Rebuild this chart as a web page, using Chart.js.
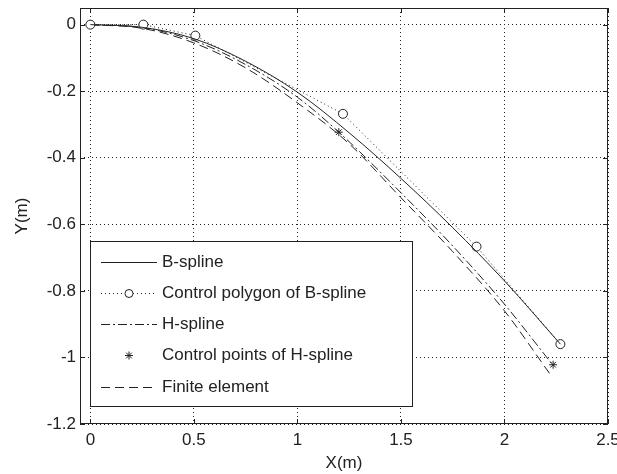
<!DOCTYPE html>
<html>
<head>
<meta charset="utf-8">
<script src="https://cdn.jsdelivr.net/npm/chart.js@4/dist/chart.umd.min.js"></script>
<style>
  html, body { margin: 0; padding: 0; background: #fff; }
  #wrap { width: 617px; height: 474px; }
</style>
</head>
<body>
<div id="wrap"><canvas id="beam-chart"></canvas></div>
<script>
// Axis ticks
const xTicks = [0, 0.5, 1, 1.5, 2, 2.5];
const yTicks = [0, -0.2, -0.4, -0.6, -0.8, -1, -1.2];

// B-spline curve (solid)
const bSplineX = [0, 0.25, 0.5, 0.75, 1.0, 1.25, 1.5, 1.75, 2.0, 2.27];
const bSplineY = [0, -0.008, -0.042, -0.11, -0.203, -0.325, -0.462, -0.61, -0.77, -0.96];

// Control polygon of B-spline
const polyX = [0, 0.256, 0.507, 1.22, 1.865, 2.27];
const polyY = [0, 0, -0.033, -0.268, -0.667, -0.96];

// H-spline curve (dash-dot)
const hSplineX = [0, 0.25, 0.5, 0.75, 1.0, 1.2, 1.5, 1.75, 2.0, 2.23];
const hSplineY = [0, -0.009, -0.048, -0.12, -0.218, -0.323, -0.505, -0.665, -0.84, -1.02];

// Control points of H-spline
const hCtrlX = [0, 1.2, 2.235];
const hCtrlY = [0, -0.323, -1.022];

// Finite element (dashed)
const feX = [0, 0.25, 0.5, 0.75, 1.0, 1.25, 1.5, 1.75, 2.0, 2.22];
const feY = [0, -0.011, -0.055, -0.13, -0.235, -0.358, -0.52, -0.682, -0.86, -1.05];

const legendLabels = ['B-spline', 'Control polygon of B-spline', 'H-spline', 'Control points of H-spline', 'Finite element'];

const toPoints = (xs, ys) => xs.map((x, i) => ({ x: x, y: ys[i] }));
const ink = '#222';
const font = "'Liberation Sans', Arial, sans-serif";

// frame, inward ticks and legend box, like a MATLAB figure
const framePlugin = {
    id: 'frame',
    afterDraw(chart) {
        const { ctx, chartArea: a, scales } = chart;
        ctx.save();
        ctx.strokeStyle = ink;
        ctx.lineWidth = 1;
        ctx.setLineDash([]);
        ctx.strokeRect(a.left + 0.5, a.top + 0.5, a.right - a.left - 1, a.bottom - a.top - 1);
        ctx.beginPath();
        xTicks.forEach(v => {
            const px = Math.round(scales.x.getPixelForValue(v)) + 0.5;
            ctx.moveTo(px, a.bottom); ctx.lineTo(px, a.bottom - 5);
            ctx.moveTo(px, a.top); ctx.lineTo(px, a.top + 5);
        });
        yTicks.forEach(v => {
            const py = Math.round(scales.y.getPixelForValue(v)) + 0.5;
            ctx.moveTo(a.left, py); ctx.lineTo(a.left + 5, py);
            ctx.moveTo(a.right, py); ctx.lineTo(a.right - 5, py);
        });
        ctx.stroke();

        // legend
        const bx = 90, by = 241, bw = 322, bh = 165;
        ctx.fillStyle = '#fff';
        ctx.fillRect(bx, by, bw, bh);
        ctx.strokeRect(bx + 0.5, by + 0.5, bw, bh);
        const rows = [262, 293, 324, 355, 387];
        const dashes = [[], [1, 3], [9, 3, 2, 3], null, [9, 5]];
        ctx.font = '17px ' + font;
        ctx.textBaseline = 'middle';
        legendLabels.forEach((label, i) => {
            const y = rows[i] + 0.5;
            if (dashes[i]) {
                ctx.setLineDash(dashes[i]);
                ctx.beginPath();
                ctx.moveTo(101, y); ctx.lineTo(157, y);
                ctx.stroke();
                ctx.setLineDash([]);
            }
            if (i === 1) {
                ctx.fillStyle = '#fff';
                ctx.beginPath();
                ctx.arc(129, y, 4, 0, Math.PI * 2);
                ctx.fill(); ctx.stroke();
            }
            if (i === 3) {
                ctx.beginPath();
                for (let k = 0; k < 4; k++) {
                    const ang = k * Math.PI / 4;
                    ctx.moveTo(129 - 4 * Math.cos(ang), y - 4 * Math.sin(ang));
                    ctx.lineTo(129 + 4 * Math.cos(ang), y + 4 * Math.sin(ang));
                }
                ctx.stroke();
            }
            ctx.fillStyle = ink;
            ctx.fillText(label, 162, y);
        });
        ctx.restore();
    }
};

const lineSet = (label, data, dash) => ({
    label: label,
    data: data,
    showLine: true,
    borderColor: ink,
    borderWidth: 1,
    borderDash: dash,
    pointRadius: 0,
    cubicInterpolationMode: 'monotone',
    fill: false
});

new Chart(document.getElementById('beam-chart'), {
    type: 'scatter',
    data: {
        datasets: [
            lineSet(legendLabels[0], toPoints(bSplineX, bSplineY), []),
            {
                label: legendLabels[1],
                data: toPoints(polyX, polyY),
                showLine: true,
                borderColor: ink,
                borderWidth: 1,
                borderDash: [1, 3],
                pointRadius: 4.5,
                pointBackgroundColor: '#fff',
                pointBorderColor: ink,
                pointBorderWidth: 1
            },
            lineSet(legendLabels[2], toPoints(hSplineX, hSplineY), [9, 3, 2, 3]),
            {
                label: legendLabels[3],
                data: toPoints(hCtrlX, hCtrlY),
                showLine: false,
                pointStyle: 'star',
                pointRadius: 4,
                pointBorderColor: ink,
                pointBorderWidth: 1
            },
            lineSet(legendLabels[4], toPoints(feX, feY), [9, 5])
        ]
    },
    plugins: [framePlugin],
    options: {
        responsive: true,
        maintainAspectRatio: false,
        animation: false,
        layout: { padding: { top: 8, right: 9, left: 0, bottom: 0 } },
        plugins: {
            legend: { display: false },
            tooltip: { enabled: false }
        },
        scales: {
            x: {
                type: 'linear',
                min: -0.05,
                max: 2.5,
                afterBuildTicks: s => { s.ticks = xTicks.map(v => ({ value: v })); },
                afterFit: s => { s.height = 50; s.paddingLeft = 0; s.paddingRight = 0; },
                grid: { color: ink, drawTicks: false, lineWidth: 1 },
                border: { display: false, dash: [1, 3] },
                ticks: { color: ink, padding: 6, font: { family: font, size: 17 }, callback: v => String(v) },
                title: { display: true, text: 'X(m)', color: ink, padding: { top: 0, bottom: 0 }, font: { family: font, size: 17 } }
            },
            y: {
                type: 'linear',
                min: -1.2,
                max: 0.05,
                afterBuildTicks: s => { s.ticks = yTicks.map(v => ({ value: v })); },
                afterFit: s => { s.width = 80; s.paddingTop = 0; s.paddingBottom = 0; },
                grid: { color: ink, drawTicks: false, lineWidth: 1 },
                border: { display: false, dash: [1, 3] },
                ticks: { color: ink, padding: 4, font: { family: font, size: 17 }, callback: v => String(v) },
                title: { display: true, text: 'Y(m)', color: ink, padding: { top: 12, bottom: 0 }, font: { family: font, size: 17 } }
            }
        }
    }
});
</script>
</body>
</html>
